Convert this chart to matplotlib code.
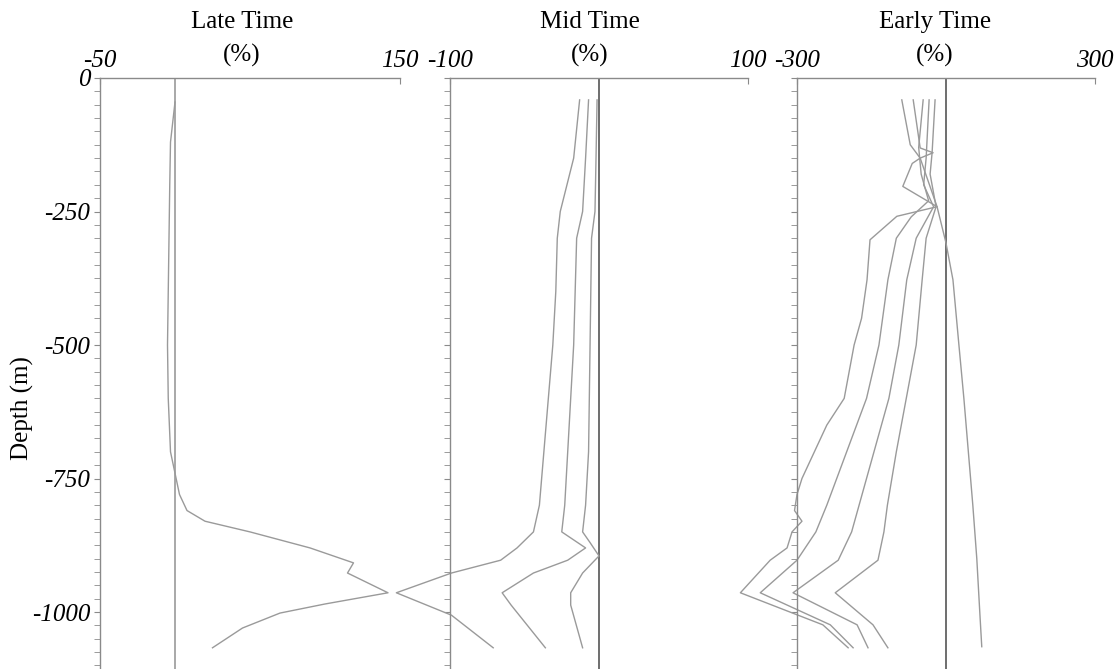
import matplotlib
matplotlib.use("Agg")
import matplotlib.pyplot as plt
from matplotlib.ticker import MultipleLocator, FixedLocator, NullFormatter

plt.rcParams['font.family'] = ['Liberation Serif', 'DejaVu Serif']
plt.rcParams['axes.unicode_minus'] = False

# ---------------- data ----------------
panel_titles = ["Late Time\n(%)", "Mid Time\n(%)", "Early Time\n(%)"]
panel_xlims = [(-50, 150), (-100, 100), (-300, 300)]
depth_ticks = [0, -250, -500, -750, -1000]

late_depth = [-45, -120, -200, -300, -400, -500, -600, -700, -740, -780, -810, -830, -850, -880, -908, -927, -964, -985, -1002, -1030, -1067]
late_val = [0, -3, -3.5, -4, -4.5, -5, -4.5, -3, 0, 3, 8, 20, 50, 90, 119, 115, 142, 100, 70, 45, 25]

midA_depth = [-41, -150, -250, -300, -400, -500, -600, -700, -800, -850, -880, -903, -927, -964, -1006, -1067]
midA_val = [-13, -17, -26, -28, -29, -31, -34, -37, -40, -44, -55, -66, -99, -136, -99, -71]
midB_depth = [-41, -150, -250, -300, -400, -500, -600, -700, -800, -850, -880, -903, -927, -964, -987, -1067]
midB_val = [-7, -9, -11, -15, -16, -17, -19, -21, -23, -25, -9, -21, -44, -65, -59, -36]
midC_depth = [-41, -150, -250, -300, -400, -500, -600, -700, -800, -850, -870, -895, -927, -964, -987, -1067]
midC_val = [-1.3, -2, -2.7, -5, -5.5, -6, -6.5, -7, -9, -11, -6, 0, -11, -19, -19, -11]

early1_depth = [-41, -125, -150, -241, -309, -378, -500, -600, -700, -800, -900, -1000, -1065]
early1_val = [-89, -72, -52, -18, 0, 14, 26, 36, 45, 54, 62, 68, 72]
early2_depth = [-41, -131, -140, -150, -160, -203, -241, -259, -303, -378, -450, -500, -600, -650, -700, -750, -780, -810, -830, -850, -880, -903, -964, -1024, -1067]
early2_val = [-66, -52, -26, -52, -68, -87, -18, -99, -153, -159, -170, -185, -205, -240, -265, -290, -300, -305, -290, -310, -320, -354, -414, -248, -197]
early3_depth = [-41, -130, -180, -230, -260, -300, -378, -500, -600, -700, -800, -850, -903, -964, -1024, -1067]
early3_val = [-46, -55, -50, -35, -70, -100, -117, -135, -160, -200, -240, -262, -300, -374, -233, -187]
early4_depth = [-41, -150, -200, -241, -300, -378, -500, -600, -700, -800, -850, -903, -964, -1024, -1067]
early4_val = [-34, -40, -45, -25, -60, -79, -95, -115, -145, -175, -190, -217, -308, -179, -157]
early5_depth = [-41, -140, -180, -241, -300, -378, -500, -600, -700, -800, -850, -903, -964, -1024, -1067]
early5_val = [-22, -28, -32, -20, -40, -48, -60, -80, -100, -118, -125, -137, -223, -147, -117]

series = [
    [(late_val, late_depth)],
    [(midA_val, midA_depth), (midB_val, midB_depth), (midC_val, midC_depth)],
    [(early1_val, early1_depth), (early2_val, early2_depth), (early3_val, early3_depth),
     (early4_val, early4_depth), (early5_val, early5_depth)],
]

# ---------------- layout ----------------
W, H = 1118, 669
fig = plt.figure(figsize=(W / 100, H / 100), dpi=100)

top_px = 78
px_per_m = 0.534
ybottom = -(H - top_px) / px_per_m

panel_px = [(100, 400), (450, 748), (797, 1095)]
title_x = [242, 590, 935]
zero_colors = ["#9a9a9a", "#555555", "#555555"]
axis_color = "#8a8a8a"
curve_color = "#9a9a9a"
fs = 18

for i in range(3):
    l, r = panel_px[i]
    ax = fig.add_axes([l / W, 0, (r - l) / W, (H - top_px) / H])
    ax.set_xlim(*panel_xlims[i])
    ax.set_ylim(ybottom, 0)
    for s in ["right", "bottom"]:
        ax.spines[s].set_visible(False)
    for s in ["top", "left"]:
        ax.spines[s].set_color(axis_color)
        ax.spines[s].set_linewidth(1.0)
    ax.patch.set_alpha(0)

    ax.xaxis.tick_top()
    ax.xaxis.set_major_locator(FixedLocator(list(panel_xlims[i])))
    ax.tick_params(axis='x', which='both', direction='in', length=4, color=axis_color,
                   labelsize=fs, pad=4)
    for lab in ax.get_xticklabels():
        lab.set_fontstyle('italic')

    ax.yaxis.set_major_locator(FixedLocator(depth_ticks))
    ax.yaxis.set_minor_locator(MultipleLocator(25))
    ax.tick_params(axis='y', which='both', direction='out', length=4, color=axis_color,
                   labelsize=fs, pad=3)
    if i == 0:
        ax.set_yticklabels([str(v) for v in depth_ticks])
        for lab in ax.get_yticklabels():
            lab.set_fontstyle('italic')
    else:
        ax.yaxis.set_major_formatter(NullFormatter())

    ax.axvline(0, color=zero_colors[i], lw=1.2, zorder=1)
    for vals, deps in series[i]:
        ax.plot(vals, deps, color=curve_color, lw=1.0, clip_on=False, zorder=2)

    fig.text(title_x[i] / W, 1 - 22 / H, panel_titles[i].split("\n")[0], ha='center', va='center',
             fontsize=fs)
    fig.text(title_x[i] / W, 1 - 55 / H, panel_titles[i].split("\n")[1], ha='center', va='center',
             fontsize=fs)

fig.text(22 / W, 1 - 408 / H, "Depth (m)", rotation=90, ha='center', va='center', fontsize=fs)

fig.savefig("out.png", dpi=100)
